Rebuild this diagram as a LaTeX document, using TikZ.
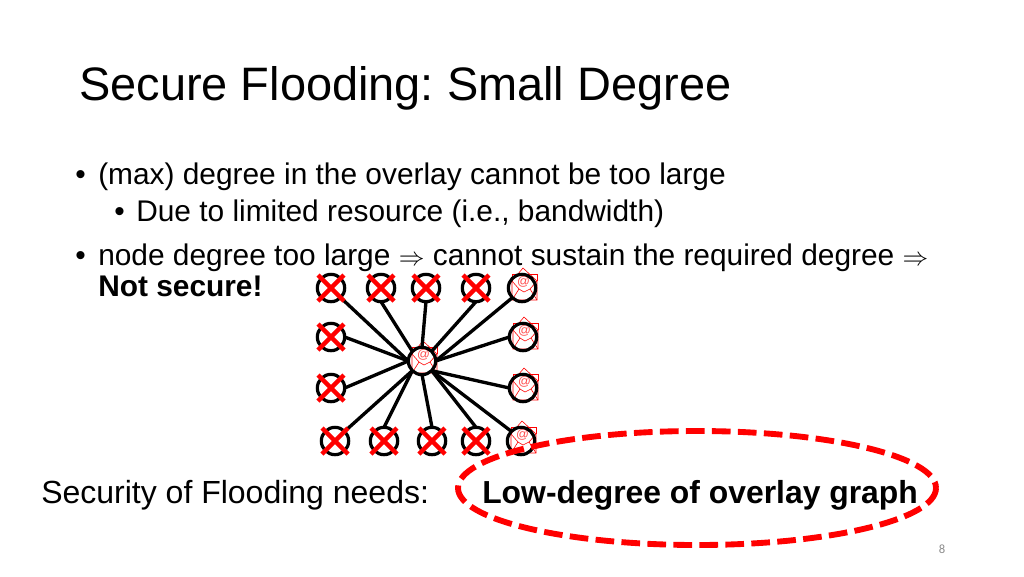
\documentclass[tikz,border=0pt]{standalone}
\usepackage{fontspec}
\usepackage{graphicx}
\setmainfont{Liberation Sans}
\newfontfamily\pagefont{Carlito}
\usetikzlibrary{calc}
\definecolor{xred}{RGB}{255,0,0}
\newcommand{\impl}{\scalebox{0.93}{$\Rightarrow$}}
\frenchspacing
\tikzset{
  x=0.75pt,y=-0.75pt,
  peer/.style={circle,draw=black,line width=2.4pt,minimum size=20.5pt,inner sep=0pt,outer sep=0pt},
  link/.style={black,line width=2.5pt},
  body/.style={anchor=base west,inner sep=0pt,font=\fontsize{22.4}{28}\selectfont,text=black},
  xline/.style={xred,line width=3.4pt},
  mailline/.style={xred,line width=0.45pt},
  pics/mail/.style={code={
    \draw[mailline] (-10,12) -- (-10,-7) -- (1,-20) -- (15,-7) -- (15,12) -- cycle;
    \draw[mailline] (-10,-14) -- (15,-14) (-10,-14) -- (-10,-7) (15,-14) -- (15,-7);
    \draw[mailline] (-10,12) -- (-3,1) -- (2,4) -- (8,1) -- (15,12);
    \draw[mailline] (-10,-7) -- (-3,1) (15,-7) -- (8,1);
    \node[inner sep=0pt,text=xred!70,font=\fontsize{9.5}{9.5}\selectfont] at (1.5,-6.5) {@};
  }}
}
\begin{document}
\begin{tikzpicture}
\useasboundingbox (0,0) rectangle (1024,576);
\node[anchor=base west,inner sep=0pt,font=\fontsize{35.2}{40}\selectfont] (title) at (79,100) {Secure Flooding: Small Degree};
\node[body] (b1) at (75,184) {•};
\node[body] (l1) at (98,184) {(max) degree in the overlay cannot be too large};
\node[body] (b2) at (114,221) {•};
\node[body] (l2) at (136,221) {Due to limited resource (i.e., bandwidth)};
\node[body] (b3) at (75,265) {•};
\node[body] (l3) at (98,265) {node degree too large \impl{} cannot sustain the required degree \impl};
\node[body,font=\fontsize{22.4}{28}\selectfont\bfseries] (l4) at (98,296) {Not secure!};

\foreach \p in {(522,288),(523,337),(523,388),(521,441),(422,361)} \pic at \p {mail};

\foreach \n/\x/\y in {a/331/288,b/381/288,c/426/288,d/476/288,e/522/288,
  f/331/337,g/331/388,h/523/337,i/523/388,
  j/335/441,k/384/441,l/432/441,m/476/441,n/521/441,o/422/361}
  \node[peer] (\n) at (\x,\y) {};

\foreach \n/\s/\t in {a/west/south east,b/north west/south,c/north/south,d/north east/south,
  e/east/south west,h/east/west,i/south east/west,n/south east/north west,m/south east/north,
  l/south/north,k/south west/north,j/south west/north east,g/west/east,f/west/east}
  \draw[link] (o.\s) -- (\n.\t);

\foreach \n in {a,b,c,d,f,g,j,k,l,m}
  \draw[xline] ($(\n)+(-13,-13)$) -- ($(\n)+(13,13)$) ($(\n)+(-13,13)$) -- ($(\n)+(13,-13)$);

\node[body,font=\fontsize{24}{28}\selectfont] (need) at (41,503) {Security of Flooding needs:};
\node[body,font=\fontsize{23.9}{28}\selectfont\bfseries] (low) at (482,503) {Low-degree of overlay graph};
\draw[xred,line width=4.4pt,dash pattern=on 14pt off 5.5pt] (697,488) ellipse [x radius=239,y radius=57];
\node[inner sep=0pt,text=black!45,font=\pagefont\fontsize{9.5}{9.5}\selectfont] (pg) at (942,549) {8};
\end{tikzpicture}
\end{document}
